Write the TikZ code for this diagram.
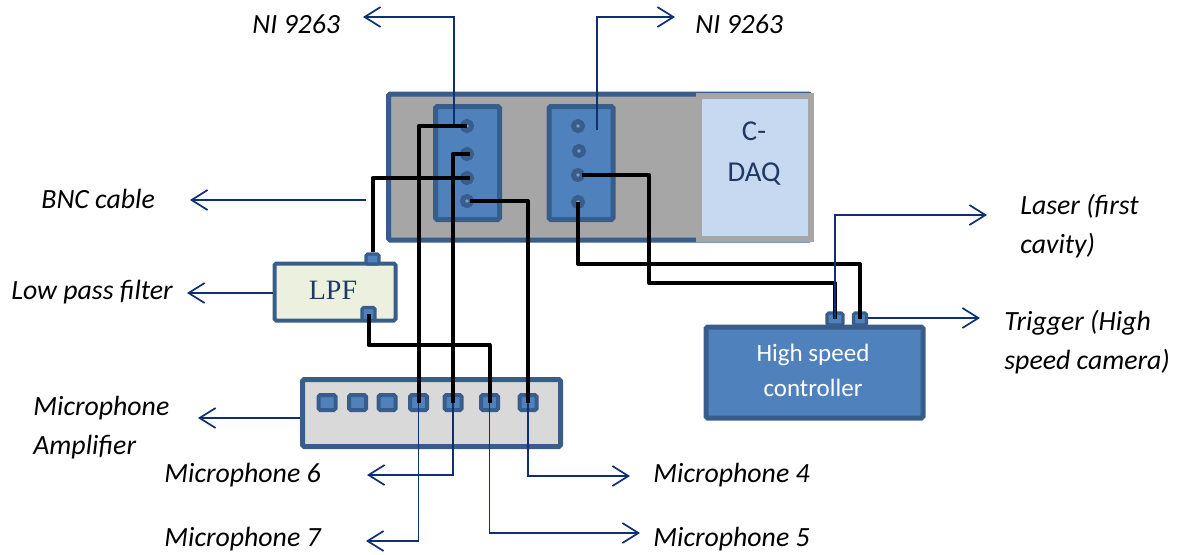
\documentclass[tikz,border=0pt]{standalone}
\usepackage{fontspec}
\usepackage{xcolor}
\setmainfont{Carlito}
\newfontfamily\lpffont{Liberation Serif}
\usetikzlibrary{arrows.meta}
\definecolor{edgeblue}{HTML}{385D8A}
\definecolor{fillblue}{HTML}{4F81BD}
\definecolor{wireblue}{HTML}{0F2F74}
\definecolor{inkblue}{HTML}{1F3864}
\definecolor{casegray}{HTML}{A6A6A6}
\definecolor{ampgray}{HTML}{D9D9D9}
\definecolor{lpfgreen}{HTML}{EBF1DE}
\definecolor{daqblue}{HTML}{C6D9F0}

\begin{document}
\begin{tikzpicture}[
    x=0.5pt, y=-0.5pt,
    box/.style={rectangle, draw=edgeblue, line width=2.5pt, rounded corners=0.8pt, inner sep=0pt},
    module/.style={box, fill=fillblue, minimum width=32pt, minimum height=56.5pt},
    jack/.style={circle, draw=edgeblue, fill=fillblue!75!white, line width=2.5pt, minimum size=4.5pt, inner sep=0pt},
    socket/.style={box, fill=fillblue, line width=2pt, minimum width=8.5pt, minimum height=7.5pt},
    tab/.style={box, fill=fillblue, line width=1.6pt},
    tag/.style={font=\fontsize{13.9}{19.5}\selectfont\itshape, anchor=west, align=left, inner sep=0pt},
    cable/.style={draw=black, line width=2pt, line join=round},
    wire/.style={draw=wireblue, line width=0.85pt},
    lead/.style={wire, -{Straight Barb[length=8pt, width=10pt, line width=0.85pt]}}
]
\useasboundingbox (0,0) rectangle (1177,554);

\node[box, fill=casegray, minimum width=211pt, minimum height=73pt] (daq) at (599.5,167) {};
\node[box, draw=casegray, fill=daqblue, line width=3pt, rounded corners=0pt, minimum width=56pt, minimum height=71.5pt] (cdaq) at (755,167.5) {};
\node[text=inkblue, align=center, font=\fontsize{14.4}{20.5}\selectfont] (cdaqtext) at (754,154) {C-\\DAQ};
\node[module] (nia) at (467.5,163) {};
\node[module] (nib) at (581,163) {};
\node[jack] (jacka) at (467,126) {};
\node[jack] (jackb) at (467,154) {};
\node[jack] (jackc) at (467,178) {};
\node[jack] (jackd) at (467,201) {};
\node[jack] (jacke) at (578,126) {};
\node[jack] (jackf) at (579,151) {};
\node[jack] (jackg) at (578,175) {};
\node[jack] (jackh) at (578,202) {};

\node[box, fill=lpfgreen, line width=2pt, minimum width=60.5pt, minimum height=28.5pt] (lpf) at (335,292) {};
\node[text=inkblue, font=\lpffont\fontsize{14}{16}\selectfont] (lpftext) at (333,290) {LPF};
\node[tab, minimum width=6.5pt, minimum height=5pt] (lpfin) at (372.5,259) {};
\node[tab, minimum width=6.5pt, minimum height=6.5pt] (lpfout) at (368.5,314) {};

\node[box, fill=ampgray, minimum width=129pt, minimum height=33.5pt] (amp) at (431.5,413) {};
\node[socket] (sockb) at (327,402.5) {};
\node[socket] (sockc) at (357.5,402.5) {};
\node[socket] (sockd) at (387,402.5) {};
\node[socket] (socke) at (418.5,402.5) {};
\node[socket] (sockf) at (453,402.5) {};
\node[socket] (sockg) at (489.5,402.5) {};
\node[socket] (sockh) at (528,402.5) {};

\node[box, fill=fillblue, minimum width=108.5pt, minimum height=45.5pt] (hsc) at (814.5,372.5) {};
\node[text=white, align=center, font=\fontsize{12.5}{17.5}\selectfont] (hsctext) at (813,370.5) {High speed\\controller};
\node[tab, minimum width=8pt, minimum height=6pt] (hsca) at (835,319) {};
\node[tab, minimum width=6.5pt, minimum height=6pt] (hscb) at (860,319) {};

\node[tag] (nileft) at (252,24) {NI 9263};
\node[tag] (niright) at (695,24) {NI 9263};
\node[tag] (bnc) at (41,199) {BNC cable};
\node[tag] (lowpass) at (11,292) {Low pass filter};
\node[tag] (ampname) at (33,428) {Microphone\\Amplifier};
\node[tag] (micsix) at (164,475) {Microphone 6};
\node[tag] (micseven) at (164,539) {Microphone 7};
\node[tag] (micfour) at (653,475) {Microphone 4};
\node[tag] (micfive) at (653,539) {Microphone 5};
\node[tag] (laser) at (1020,226) {Laser (first\\cavity)};
\node[tag] (trigger) at (1004,342) {Trigger (High\\speed camera)};

\coordinate (endsix) at (367,475);
\coordinate (endseven) at (366,541);
\coordinate (endfour) at (630,476);
\coordinate (endfive) at (640,533);
\draw[lead] (socke.center) |- (endseven);
\draw[lead] (sockf.center) |- (endsix);
\draw[lead] (sockg.center) |- (endfive);
\draw[lead] (sockh.center) |- (endfour);

\coordinate (lpfbend) at (420,345);
\coordinate (hscbend) at (649,283);
\coordinate (jackgout) at (582,175);
\draw[cable] (jacka.center) -| (socke.center);
\draw[cable] ([xshift=1.5pt]jackb.center) -| (sockf.center);
\draw[cable] ([xshift=1.5pt]jackc.center) -| (lpfin.north);
\draw[cable] ([xshift=1.5pt]jackd.center) -| (sockh.center);
\draw[cable] (lpfout.center) |- (lpfbend) -| (sockg.center);
\draw[cable] (jackh.center) |- (hscb.center |- 0,264) -- (hscb.center);
\draw[cable] (jackgout) -| (hscbend) -| (hsca.center);

\coordinate (tapleft) at (454,124);
\coordinate (tapright) at (597,130);
\coordinate (topleft) at (363,17);
\coordinate (topright) at (675,17);
\coordinate (bncfrom) at (366,200);
\coordinate (bncto) at (190,200);
\coordinate (lpfto) at (187,293);
\coordinate (ampto) at (198,418);
\coordinate (laserto) at (987,215);
\coordinate (triggerto) at (980,318);
\draw[lead] (tapleft) |- (topleft);
\draw[lead] (tapright) |- (topright);
\draw[lead] (bncfrom) -- (bncto);
\draw[lead] (lpf.west |- lpfto) -- (lpfto);
\draw[lead] (amp.west |- ampto) -- (ampto);
\draw[lead] (hsca.center) |- (laserto);
\draw[lead] (hscb.east |- triggerto) -- (triggerto);
\end{tikzpicture}
\end{document}
